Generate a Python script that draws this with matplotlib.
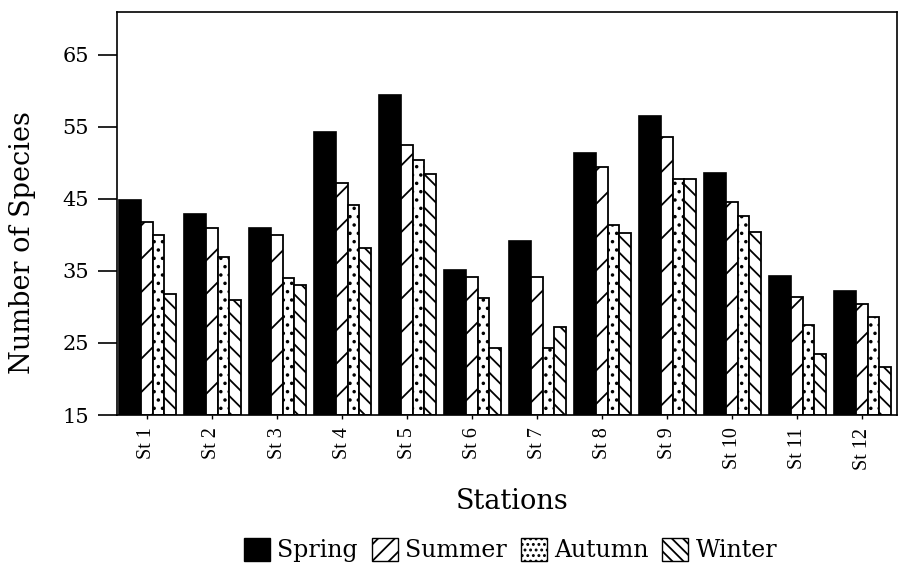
import numpy as np
import matplotlib
matplotlib.use('Agg')
import matplotlib.pyplot as plt
from matplotlib.patches import Patch

stations = ['St 1', 'St 2', 'St 3', 'St 4', 'St 5', 'St 6',
            'St 7', 'St 8', 'St 9', 'St 10', 'St 11', 'St 12']
spring = [44.8, 42.9, 40.9, 54.2, 59.4, 35.1, 39.1, 51.4, 56.5, 48.6, 34.3, 32.2]
summer = [41.8, 41.0, 40.0, 47.2, 52.4, 34.1, 34.2, 49.4, 53.5, 44.6, 31.3, 30.4]
autumn = [39.9, 36.9, 34.0, 44.1, 50.4, 31.2, 24.3, 41.4, 47.7, 42.6, 27.5, 28.6]
winter = [31.8, 31.0, 33.0, 38.1, 48.4, 24.3, 27.2, 40.3, 47.7, 40.4, 23.5, 21.6]
seasons = ['Spring', 'Summer', 'Autumn', 'Winter']

plt.rcParams['hatch.linewidth'] = 1.3
serif = 'DejaVu Serif'
narrow = 'Liberation Serif'

fig = plt.figure(figsize=(9.02, 5.70), dpi=100)
ax = fig.add_axes([0.1297, 0.2719, 0.8648, 0.7071])

x = np.arange(len(stations))
w_big = 0.34
w = 0.177
start = x - 0.43
base = 15

ax.bar(start, np.array(spring) - base, w_big, bottom=base, align='edge',
       color='black', edgecolor='black', linewidth=1.2)
ax.bar(start + w_big, np.array(summer) - base, w, bottom=base, align='edge',
       color='white', edgecolor='black', linewidth=1.3, hatch='/')
ax.bar(start + w_big + w, np.array(autumn) - base, w, bottom=base, align='edge',
       color='white', edgecolor='black', linewidth=1.3, hatch='..')
ax.bar(start + w_big + 2 * w, np.array(winter) - base, w, bottom=base, align='edge',
       color='white', edgecolor='black', linewidth=1.3, hatch='\\\\')

ax.set_xlim(-0.4615, 11.538)
ax.set_ylim(15, 70.9)
ax.set_yticks([15, 25, 35, 45, 55, 65])
ax.set_xticks(x)
ax.set_xticklabels(stations, rotation=90, fontsize=14.5, family=narrow)
for lab in ax.get_yticklabels():
    lab.set_family(serif)
    lab.set_fontsize(15)
ax.tick_params(axis='y', direction='out', length=14, width=1.2, pad=6)
ax.tick_params(axis='x', direction='out', length=3, width=1, pad=6)
for s in ax.spines.values():
    s.set_linewidth(1.2)

# label positions set by hand, the original is not centred on the axes
ax.set_ylabel('Number of Species', fontsize=19.5, family=serif)
ax.yaxis.set_label_coords(-0.104, 0.429)
ax.set_xlabel('Stations', fontsize=19.5, family=serif)
ax.xaxis.set_label_coords((512 - 117) / 780, -(488 - 415) / 403)
ax.xaxis.label.set_va('top')

handles = [
    Patch(facecolor='black', edgecolor='black'),
    Patch(facecolor='white', edgecolor='black', hatch='//'),
    Patch(facecolor='white', edgecolor='black', hatch='...'),
    Patch(facecolor='white', edgecolor='black', hatch='\\\\\\'),
]
fig.legend(handles, seasons, loc='center', bbox_to_anchor=(0.566, 0.035),
           ncol=4, frameon=False, handlelength=1.1, handleheight=1.1,
           handletextpad=0.3, columnspacing=0.6,
           prop={'family': serif, 'size': 17})

fig.savefig('out.png', dpi=100)
